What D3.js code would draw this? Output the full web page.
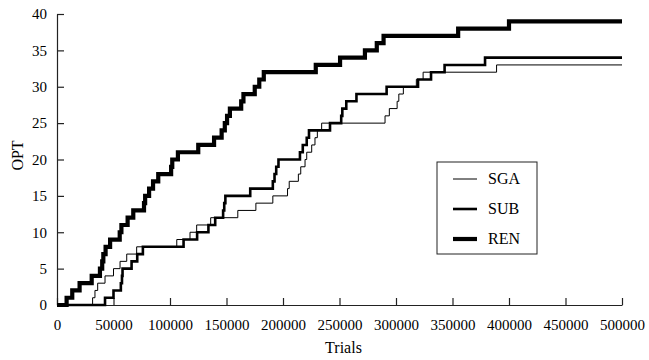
<!DOCTYPE html>
<html>
<head>
<meta charset="utf-8">
<script src="https://cdn.jsdelivr.net/npm/d3@7"></script>
<style>
  body { margin: 0; background: #fff; }
  svg text { font-family: "Liberation Serif", "Times New Roman", serif; fill: #000; }
</style>
</head>
<body>
<div id="chart"></div>
<script>
// [trials, OPT] step points, value holds until the next point
var sgaSteps = [[0,0],[31500,1],[33600,2],[36000,3],[42500,4],[50000,5],[55800,6],[61700,7],[70500,8],
  [106000,9],[117700,10],[123600,11],[136000,12],[160000,13],[176000,14],[191000,15],[204000,16],[205500,17],
  [213600,18],[215700,19],[219500,20],[221000,21],[225400,22],[228300,23],[230400,24],[234200,25],[290300,26],
  [294100,27],[301000,28],[302500,29],[306500,30],[318000,31],[324000,32],[389000,33],[500000,33]];
var subSteps = [[0,0],[42500,1],[50000,2],[56500,3],[57500,4],[58000,5],[66000,6],[71000,7],[76000,8],
  [112000,9],[124000,10],[134000,11],[140000,12],[147000,13],[148000,14],[149000,15],[171000,16],[191000,17],
  [192500,18],[194000,19],[196000,20],[215000,21],[217500,22],[221000,23],[223000,24],[241600,25],[251500,26],
  [252500,27],[256000,28],[265000,29],[291700,30],[319500,31],[331000,32],[343000,33],[378800,34],[500000,34]];
var renSteps = [[0,0],[8500,1],[13500,2],[20000,3],[30700,4],[38000,5],[40000,6],[41000,7],[43000,8],[47000,9],
  [55500,10],[57000,11],[62500,12],[67500,13],[77000,14],[78000,15],[81500,16],[85000,17],[89600,18],[101000,19],
  [102000,20],[107000,21],[125000,22],[139000,23],[145700,24],[148500,25],[150500,26],[153000,27],[163000,28],
  [165000,29],[175000,30],[179000,31],[183000,32],[229000,33],[250500,34],[272500,35],[283000,36],[289000,37],
  [355000,38],[400000,39],[500000,39]];

var seriesNames = ["SGA", "SUB", "REN"];
var xTicks = [0,50000,100000,150000,200000,250000,300000,350000,400000,450000,500000];
var yTicks = [0,5,10,15,20,25,30,35,40];

var width = 649, height = 360;
var plotLeft = 57, plotRight = 622, plotTop = 14, plotBottom = 305;
var strokeWidths = [1, 2.6, 4.2];
var serif = "'Liberation Serif', 'Times New Roman', serif";

var svg = d3.select("#chart").append("svg")
    .attr("width", width)
    .attr("height", height);

var x = d3.scaleLinear().domain([0, 500000]).range([plotLeft, plotRight]);
var y = d3.scaleLinear().domain([0, 40]).range([plotBottom, plotTop]);

/* axes, ticks pointing inward */
var xAxis = d3.axisBottom(x).tickValues(xTicks).tickFormat(d3.format("d")).tickSizeInner(-7).tickSizeOuter(0).tickPadding(14);
var yAxis = d3.axisLeft(y).tickValues(yTicks).tickSizeInner(-7).tickSizeOuter(0).tickPadding(10);

var gx = svg.append("g")
    .attr("transform", `translate(0, ${plotBottom})`)
    .call(xAxis);
var gy = svg.append("g")
    .attr("transform", `translate(${plotLeft}, 0)`)
    .call(yAxis);

[gx, gy].forEach(function(g) {
    g.attr("font-family", serif).attr("font-size", 15);
    g.selectAll("path, line").attr("stroke", "#222").attr("stroke-width", 1.2);
    g.selectAll("text").attr("fill", "#000");
});

svg.append("text")
    .attr("x", (plotLeft + plotRight) / 2 + 4)
    .attr("y", 353)
    .attr("text-anchor", "middle")
    .attr("font-family", serif)
    .attr("font-size", 16)
    .text("Trials");

svg.append("text")
    .attr("transform", `translate(23, ${(plotTop + plotBottom) / 2 - 4}) rotate(-90)`)
    .attr("text-anchor", "middle")
    .attr("font-family", serif)
    .attr("font-size", 16)
    .text("OPT");

/* lines */
var line = d3.line()
    .x(d => x(d[0]))
    .y(d => y(d[1]))
    .curve(d3.curveStepAfter);

var allSteps = [sgaSteps, subSteps, renSteps];
svg.append("g").selectAll("path")
    .data(allSteps).enter()
    .append("path")
    .attr("d", d => line(d))
    .attr("fill", "none")
    .attr("stroke", "#000")
    .attr("stroke-width", (d, i) => strokeWidths[i]);

/* legend */
var legend = svg.append("g").attr("transform", "translate(437, 162)");
legend.append("rect")
    .attr("width", 100)
    .attr("height", 92)
    .attr("fill", "#fff")
    .attr("stroke", "#222")
    .attr("stroke-width", 1);

seriesNames.forEach(function(name, i) {
    var ly = 17 + i * 30;
    legend.append("line")
        .attr("x1", 16).attr("x2", 40)
        .attr("y1", ly).attr("y2", ly)
        .attr("stroke", "#000")
        .attr("stroke-width", strokeWidths[i]);
    legend.append("text")
        .attr("x", 51)
        .attr("y", ly + 5)
        .attr("font-family", serif)
        .attr("font-size", 16)
        .text(name);
});
</script>
</body>
</html>
